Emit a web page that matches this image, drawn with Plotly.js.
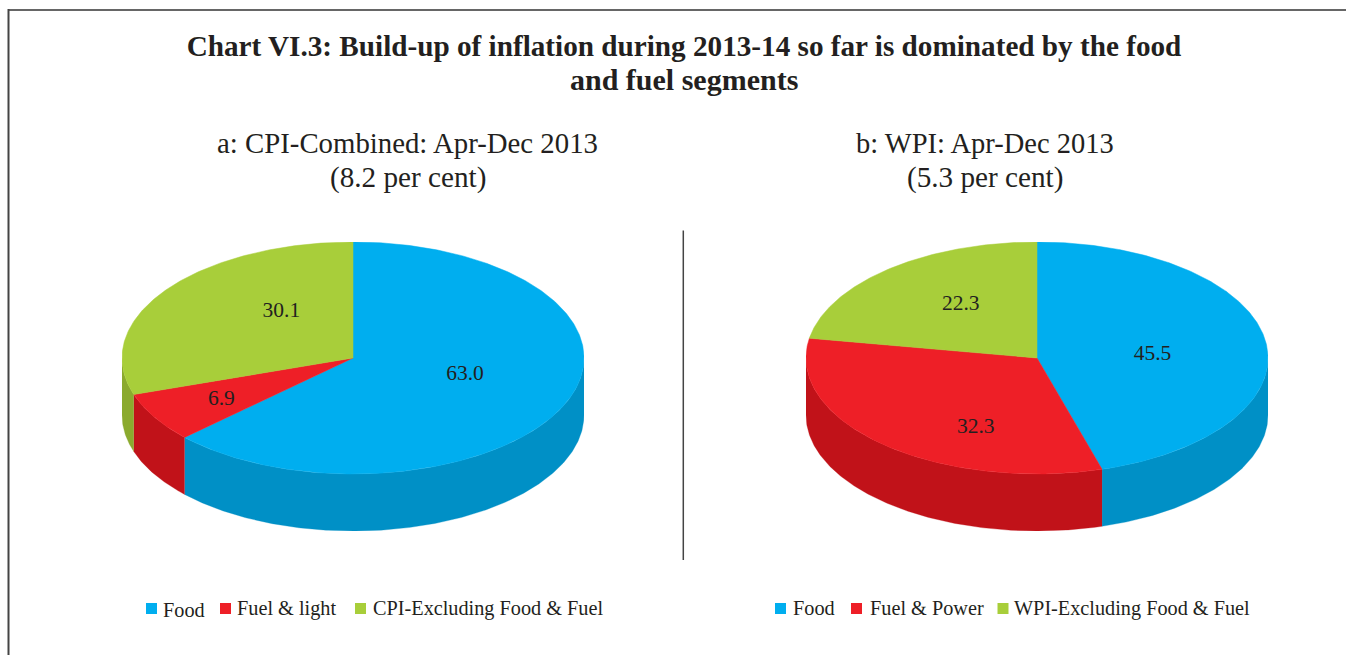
<!DOCTYPE html>
<html><head><meta charset="utf-8">
<script src="https://cdn.plot.ly/plotly-3.0.1.min.js"></script>
<style>html,body{margin:0;padding:0;background:#fff}#c{width:1346px;height:655px}</style></head>
<body><div id="c"></div>
<script>
const chartTitleLines = ["Chart VI.3: Build-up of inflation during 2013-14 so far is dominated by the food", "and fuel segments"];
const titleALines = ["a: CPI-Combined: Apr-Dec 2013", "(8.2 per cent)"];
const titleBLines = ["b: WPI: Apr-Dec 2013", "(5.3 per cent)"];
const categoriesA = ["Food", "Fuel & light", "CPI-Excluding Food & Fuel"];
const valuesA = [63.0, 6.9, 30.1];
const categoriesB = ["Food", "Fuel & Power", "WPI-Excluding Food & Fuel"];
const valuesB = [45.5, 32.3, 22.3];

const topColors = ["#00AEEF", "#EE1F27", "#A8CE3A"];
const sideColors = ["#0090C6", "#C11219", "#8BAA2E"];
const W = 1346, H = 655;
const pieTop = 242, pieRy = 116, pieRx = 231, pieDepth = 57;
const depth = pieDepth / pieRy;
const centersX = [353, 1037];
const labelPosA = [[0.485, -0.147], [-0.57, -0.362], [-0.31, 0.403]];
const labelPosB = [[0.50, 0.033], [-0.265, -0.597], [-0.33, 0.463]];
const legendMarkA = [151.5, 225.5, 360.5], legendTextA = [161, 235, 371];
const legendMarkB = [780.5, 856.5, 1003], legendTextB = [791, 868, 1012];
const legendMarkY = 608.5;
const legendTextYA = [610, 608, 608], legendTextYB = [608, 608, 608];

function arc(a0, a1, dy) {
  const xs = [], ys = [], n = Math.max(2, Math.ceil(Math.abs(a1 - a0) / 0.01));
  for (let i = 0; i <= n; i++) {
    const a = a0 + (a1 - a0) * i / n;
    xs.push(Math.sin(a)); ys.push(Math.cos(a) - dy);
  }
  return [xs, ys];
}
const traces = [];
function addPie(values, cats, labelPos, axisIdx) {
  const xa = axisIdx === 0 ? "x" : "x2", ya = axisIdx === 0 ? "y" : "y2";
  const total = values.reduce((s, v) => s + v, 0);
  let acc = 0;
  const spans = values.map(v => { const s = [acc / total * 2 * Math.PI, (acc + v) / total * 2 * Math.PI]; acc += v; return s; });
  // Side walls: the front half only (angles between 90 and 270 degrees clockwise from the top)
  spans.forEach((s, i) => {
    const a0 = Math.max(s[0], Math.PI / 2), a1 = Math.min(s[1], 1.5 * Math.PI);
    if (a1 <= a0) return;
    const [tx, ty] = arc(a0, a1, 0), [bx, by] = arc(a1, a0, depth);
    traces.push({type: "scatter", mode: "lines", xaxis: xa, yaxis: ya, fill: "toself",
      x: tx.concat(bx), y: ty.concat(by), fillcolor: sideColors[i],
      line: {color: sideColors[i], width: 0.3}, name: cats[i] + " side", hoverinfo: "skip", showlegend: false});
  });
  // Top faces
  spans.forEach((s, i) => {
    const [tx, ty] = arc(s[0], s[1], 0);
    traces.push({type: "scatter", mode: "lines", xaxis: xa, yaxis: ya, fill: "toself",
      x: [0].concat(tx, [0]), y: [0].concat(ty, [0]), fillcolor: topColors[i],
      line: {color: topColors[i], width: 0.5}, name: cats[i], text: String(values[i]),
      hoverinfo: "name+text", showlegend: false});
  });
  traces.push({type: "scatter", mode: "text", xaxis: xa, yaxis: ya, cliponaxis: false,
    x: labelPos.map(p => p[0]), y: labelPos.map(p => p[1]),
    text: values.map(v => v.toFixed(1)), textposition: "middle center",
    textfont: {family: "Liberation Serif", size: 21.5, color: "#231F20"}, hoverinfo: "skip", showlegend: false});
}
addPie(valuesA, categoriesA, labelPosA, 0);
addPie(valuesB, categoriesB, labelPosB, 1);

// Legend swatches on a full-page overlay axis
traces.push({type: "scatter", mode: "markers", xaxis: "x3", yaxis: "y3",
  x: legendMarkA.concat(legendMarkB), y: legendMarkA.concat(legendMarkB).map(() => legendMarkY),
  marker: {symbol: "square", size: 11, color: topColors.concat(topColors)}, hoverinfo: "skip", showlegend: false});

const dom = c => [(c - pieRx) / W, (c + pieRx) / W];
const yDom = [1 - (pieTop + 2 * pieRy + pieDepth) / H, 1 - pieTop / H];
const hidden = {visible: false, fixedrange: true};
const serif = "Liberation Serif";
const legendAnn = (cats, xs, ys) => cats.map((t, i) => ({text: t, xref: "paper", yref: "paper",
  x: xs[i] / W, y: 1 - ys[i] / H, xanchor: "left", yanchor: "middle", showarrow: false,
  font: {family: serif, size: 20.25, color: "#231F20"}}));
const textLine = (t, cx, cy, size) => ({text: t, xref: "paper", yref: "paper", x: cx / W, y: 1 - cy / H,
  xanchor: "center", yanchor: "middle", showarrow: false, align: "center",
  font: {family: serif, size: size, color: "#231F20"}});

const layout = {
  width: W, height: H, margin: {l: 0, r: 0, t: 0, b: 0}, paper_bgcolor: "#fff", plot_bgcolor: "rgba(0,0,0,0)",
  showlegend: false,
  title: {text: "<b>" + chartTitleLines[0] + "</b>", x: 684 / W, xanchor: "center",
    y: 1 - 46 / H, yanchor: "middle", font: {family: serif, size: 29.2, color: "#231F20"}},
  xaxis:  Object.assign({domain: dom(centersX[0]), range: [-1, 1], anchor: "y"}, hidden),
  yaxis:  Object.assign({domain: yDom, range: [-1 - depth, 1], anchor: "x"}, hidden),
  xaxis2: Object.assign({domain: dom(centersX[1]), range: [-1, 1], anchor: "y2"}, hidden),
  yaxis2: Object.assign({domain: yDom, range: [-1 - depth, 1], anchor: "x2"}, hidden),
  xaxis3: Object.assign({domain: [0, 1], range: [0, W], anchor: "y3"}, hidden),
  yaxis3: Object.assign({domain: [0, 1], range: [H, 0], anchor: "x3"}, hidden),
  shapes: [
    {type: "line", xref: "x3", yref: "y3", x0: 683.3, x1: 683.3, y0: 230.5, y1: 560, line: {color: "#444", width: 1.5}},
    {type: "line", xref: "x3", yref: "y3", x0: 8, x1: W, y0: 10, y1: 10, line: {color: "#666", width: 2}},
    {type: "line", xref: "x3", yref: "y3", x0: 8.5, x1: 8.5, y0: 9, y1: H, line: {color: "#444", width: 2}}
  ],
  annotations: [
    textLine("<b>" + chartTitleLines[1] + "</b>", 683.5, 80, 30),
    textLine(titleALines[0], 407.5, 143, 28.8), textLine(titleALines[1], 407.5, 177, 29.2),
    textLine(titleBLines[0], 985, 143, 28.5), textLine(titleBLines[1], 985.5, 177, 29.2)
  ].concat(legendAnn(categoriesA, legendTextA, legendTextYA), legendAnn(categoriesB, legendTextB, legendTextYB))
};
Plotly.newPlot("c", traces, layout, {displayModeBar: false, responsive: false});
</script></body></html>
